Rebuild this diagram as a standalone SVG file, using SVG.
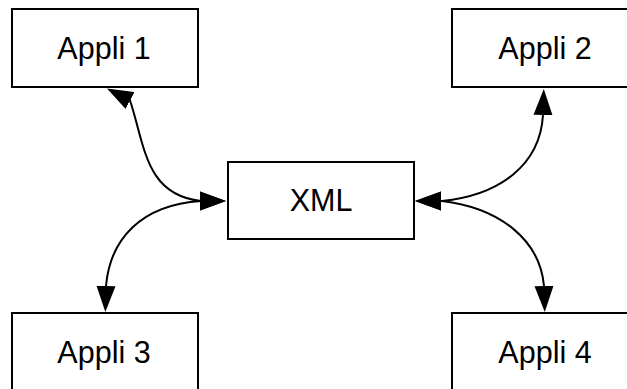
<svg xmlns="http://www.w3.org/2000/svg" width="627" height="389" viewBox="0 0 627 389">
<style>
.box{fill:#fff;stroke:#000;stroke-width:2}
.lbl{font-family:"Liberation Sans",Arial,sans-serif;font-size:30.5px;fill:#000;text-anchor:middle}
.con{fill:none;stroke:#000;stroke-width:2}
</style>
<defs>
<marker id="ah" viewBox="0 0 26 20" markerUnits="userSpaceOnUse" markerWidth="26" markerHeight="20" refX="20" refY="10" orient="auto-start-reverse">
<path d="M0,0.5 L26,10 L0,19.5 z" fill="#000"/>
</marker>
</defs>
<rect width="627" height="389" fill="#fff"/>
<g id="connectors">
<path class="con" d="M112.3,91.3 L130,100.5 C145,145 145,195 201,201 L220,201" marker-start="url(#ah)" marker-end="url(#ah)"/>
<path class="con" d="M421,201 L442,201 C500,195 540,165 543,115 L543.6,95" marker-start="url(#ah)" marker-end="url(#ah)"/>
<path class="con" d="M220,201 L201,201 C140,205 110,240 106,286 L105.5,306" marker-start="url(#ah)" marker-end="url(#ah)"/>
<path class="con" d="M421,201 L442,201 C500,208 540,240 544,286 L544.6,306" marker-start="url(#ah)" marker-end="url(#ah)"/>
</g>
<g id="appli1"><rect class="box" x="12" y="9" width="186" height="78"/><text class="lbl" x="104" y="59">Appli 1</text></g>
<g id="appli2"><rect class="box" x="452" y="9" width="186" height="78"/><text class="lbl" x="545" y="59">Appli 2</text></g>
<g id="xml"><rect class="box" x="228" y="162" width="186" height="77"/><text class="lbl" x="321" y="211">XML</text></g>
<g id="appli3"><rect class="box" x="12" y="313" width="186" height="78"/><text class="lbl" x="104" y="363">Appli 3</text></g>
<g id="appli4"><rect class="box" x="452" y="313" width="186" height="78"/><text class="lbl" x="545" y="363">Appli 4</text></g>
</svg>
